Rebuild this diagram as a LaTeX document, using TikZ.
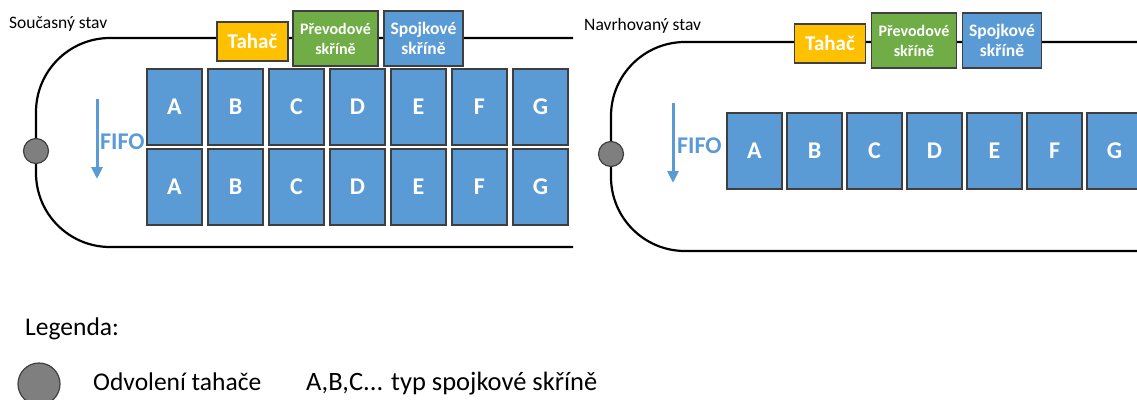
\documentclass[tikz,border=0pt]{standalone}
\usepackage{fontspec}
\setmainfont{Carlito}
\usetikzlibrary{positioning,arrows.meta}

\definecolor{boxblue}{HTML}{5B9BD5}
\definecolor{boxgreen}{HTML}{70AD47}
\definecolor{boxorange}{HTML}{FFC000}
\definecolor{edgegray}{HTML}{3F3F3F}
\definecolor{stopgray}{HTML}{7F7F7F}

\tikzset{
  box/.style={draw=edgegray, line width=1.2pt, inner sep=0pt, outer sep=0pt, text=white},
  slot/.style={box, fill=boxblue, minimum width=55pt, minimum height=76pt, font=\bfseries\fontsize{24}{26}\selectfont},
  tahac/.style={box, fill=boxorange, minimum width=71pt, minimum height=39pt, font=\bfseries\fontsize{21}{22}\selectfont},
  prevod/.style={box, fill=boxgreen, minimum width=85pt, minimum height=55pt, align=center, font=\bfseries\fontsize{16}{20}\selectfont},
  spojka/.style={box, fill=boxblue, minimum width=79pt, minimum height=55pt, align=center, font=\bfseries\fontsize{17.5}{20}\selectfont},
  track/.style={line width=2.2pt, rounded corners=74pt},
  stop/.style={circle, draw=edgegray, fill=stopgray, line width=1.2pt, minimum size=25pt, inner sep=0pt},
  fifo/.style={draw=boxblue, line width=3pt, -{Triangle[length=12pt,width=11pt]}},
  fifotext/.style={text=boxblue, anchor=base west, inner sep=0pt, font=\bfseries\fontsize{24}{26}\selectfont},
  heading/.style={anchor=base west, inner sep=0pt, font=\fontsize{17.5}{20}\selectfont},
  legendtext/.style={anchor=base west, inner sep=0pt, font=\fontsize{25.5}{28}\selectfont},
}

\begin{document}
\begin{tikzpicture}[x=1pt, y=-1pt]
\useasboundingbox (0,0) rectangle (1137,399);
\clip (0,0) rectangle (1137,399);

% current state
\node[heading] (h1) at (9,28) {Současný stav};
\draw[track] (573,38) -- (36,38) -- (36,247) -- (573,247);
\node[stop] (s1) at (36,151) {};
\node[tahac] (t1) at (252.5,41.5) {Tahač};
\node[prevod, right=5pt of t1, yshift=3pt] (p1) {Převodové\\skříně};
\node[spojka, right=6pt of p1] (k1) {Spojkové\\skříně};
\coordinate (fa1) at (97,99);
\coordinate (fb1) at (97,179);
\draw[fifo] (fa1) -- (fb1);
\node[fifotext] (f1) at (100,149) {FIFO};
\node[slot] (a1) at (174.5,107) {A};
\node[slot, right=6pt of a1] (b1) {B};
\node[slot, right=6pt of b1] (c1) {C};
\node[slot, right=6pt of c1] (d1) {D};
\node[slot, right=6pt of d1] (e1) {E};
\node[slot, right=6pt of e1] (g1f) {F};
\node[slot, right=6pt of g1f] (g1) {G};
\node[slot, below=4pt of a1] (a2) {A};
\node[slot, right=6pt of a2] (b2) {B};
\node[slot, right=6pt of b2] (c2) {C};
\node[slot, right=6pt of c2] (d2) {D};
\node[slot, right=6pt of d2] (e2) {E};
\node[slot, right=6pt of e2] (g2f) {F};
\node[slot, right=6pt of g2f] (g2) {G};

% proposed state
\node[heading] (h2) at (584,30) {Navrhovaný stav};
\draw[track] (1145,42) -- (611,42) -- (611,251) -- (1145,251);
\node[stop] (s2) at (611,154) {};
\node[tahac] (t2) at (830,43.5) {Tahač};
\node[prevod, right=6pt of t2, yshift=3pt] (p2) {Převodové\\skříně};
\node[spojka, right=6pt of p2] (k2) {Spojkové\\skříně};
\coordinate (fa2) at (673,103);
\coordinate (fb2) at (673,183);
\draw[fifo] (fa2) -- (fb2);
\node[fifotext] (f2) at (677,153) {FIFO};
\node[slot] (a3) at (754.5,151) {A};
\node[slot, right=5pt of a3] (b3) {B};
\node[slot, right=5pt of b3] (c3) {C};
\node[slot, right=5pt of c3] (d3) {D};
\node[slot, right=5pt of d3] (e3) {E};
\node[slot, right=5pt of e3] (g3f) {F};
\node[slot, right=5pt of g3f] (g3) {G};

% legend
\node[legendtext] (lg) at (25,335) {Legenda:};
\node[stop, minimum size=42pt] (s3) at (39,384) {};
\node[legendtext] (lo) at (93,390) {Odvolení tahače};
\node[legendtext, font=\fontsize{26.5}{28}\selectfont] (lt) at (306,390) {A,B,C... typ spojkové skříně};
\end{tikzpicture}
\end{document}
